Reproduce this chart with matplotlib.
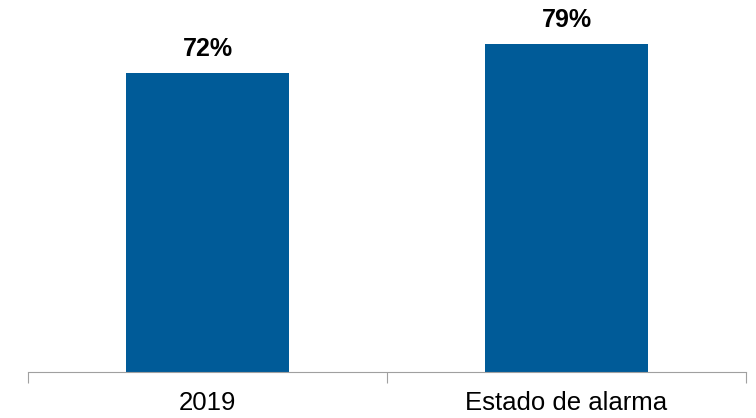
import matplotlib.pyplot as plt

categories = ["2019", "Estado de alarma"]
values = [72, 79]
labels = ["72%", "79%"]

plt.rcParams["font.family"] = ["Liberation Sans", "DejaVu Sans"]

fig = plt.figure(figsize=(7.56, 4.18), dpi=100)
ax = fig.add_axes([28 / 756, 1 - 372 / 418, (746 - 28) / 756, 372 / 418])

x = range(len(categories))
bars = ax.bar(x, values, width=0.455, color="#005b98")

for b, lab in zip(bars, labels):
    ax.annotate(lab, (b.get_x() + b.get_width() / 2, b.get_height()),
                xytext=(0, 12.3), textcoords="offset points",
                ha="center", va="baseline", fontsize=18, fontweight="bold")

ax.set_xlim(-0.5, 1.5)
ax.set_ylim(0, 89.5)
ax.set_xticks(list(x))
ax.set_xticklabels(categories, fontsize=18.5)
ax.set_xticks([-0.5, 0.5, 1.5], minor=True)
ax.tick_params(axis="x", which="major", length=0, pad=14)
ax.tick_params(axis="x", which="minor", length=8, width=0.8, color="#a0a0a0", direction="out")
ax.set_yticks([])
for s in ["top", "right", "left"]:
    ax.spines[s].set_visible(False)
ax.spines["bottom"].set_color("#a0a0a0")
ax.spines["bottom"].set_linewidth(0.8)

fig.savefig("out.png", dpi=100)
